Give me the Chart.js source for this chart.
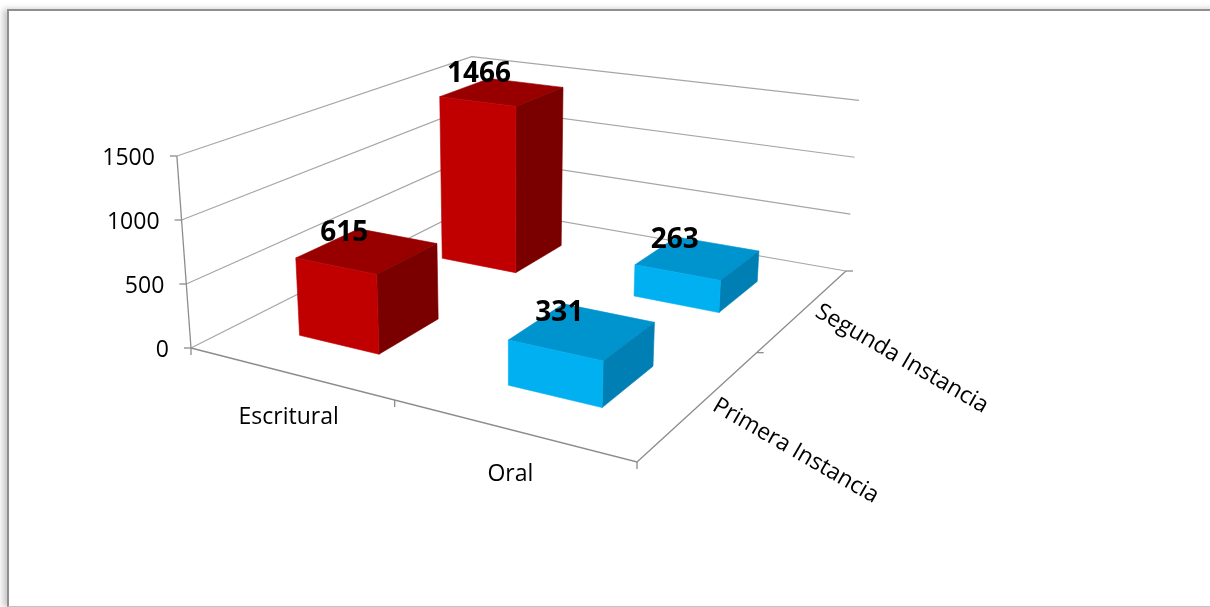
<!DOCTYPE html>
<html>
<head>
<meta charset="utf-8">
<script src="https://cdn.jsdelivr.net/npm/chart.js@4/dist/chart.umd.min.js"></script>
<style>
  body { margin: 0; background: #fff; overflow: hidden; }
  #marco {
    position: absolute; left: 7px; top: 9px; width: 1240px; height: 595px;
    border-top: 2px solid #8f8f8f; border-left: 2px solid #8f8f8f; border-bottom: 1px solid #c4c4c4;
    box-shadow: -4px 0 6px rgba(0, 0, 0, 0.22);
  }
  #caja { position: absolute; left: 0; top: 0; width: 1210px; height: 607px; }
</style>
</head>
<body>
<div id="marco"></div>
<div id="caja"><canvas id="grafico"></canvas></div>
<script>
// datos del grafico
const categorias = ["Escritural", "Oral"];
const series = ["Primera Instancia", "Segunda Instancia"];
const primeraInstancia = [615, 331];
const segundaInstancia = [1466, 263];
const ticksValor = [0, 500, 1000, 1500];

// colores de las caras (frente, tapa, lado) por categoria
const coloresFrente = ["#c00000", "#00b0f0"];
const coloresTapa = ["#980000", "#0094ce"];
const coloresLado = ["#7a0000", "#007fb4"];

// camara: esquinas del piso en pantalla y punto de fuga vertical
const piso = { L: [191, 348], F: [637, 462], R: [846, 271], B: [473, 206] };
const alturaPlena = 192;
const fuga = [510, 4680];
const fondoBarra = 0.4; // fraccion de la fila que ocupa la barra en profundidad

function armarHomografia(p) {
  const [x0, y0] = p.L, [x1, y1] = p.F, [x2, y2] = p.R, [x3, y3] = p.B;
  const sx = x0 - x1 + x2 - x3, sy = y0 - y1 + y2 - y3;
  const dx1 = x1 - x2, dx2 = x3 - x2, dy1 = y1 - y2, dy2 = y3 - y2;
  const det = dx1 * dy2 - dx2 * dy1;
  const g = (sx * dy2 - dx2 * sy) / det;
  const h = (dx1 * sy - sx * dy1) / det;
  return { a: x1 - x0 + g * x1, b: x3 - x0 + h * x3, c: x0, d: y1 - y0 + g * y1, e: y3 - y0 + h * y3, f: y0, g: g, h: h };
}
const H = armarHomografia(piso);

// (u: categoria, w: profundidad, v: fraccion del valor) -> pantalla
function proyectar(u, w, v) {
  const den = H.g * u + H.h * w + 1;
  const fx = (H.a * u + H.b * w + H.c) / den;
  const fy = (H.d * u + H.e * w + H.f) / den;
  const alto = v * alturaPlena / den;
  return [fx + (fx - fuga[0]) * alto / (fuga[1] - fy), fy - alto];
}

function linea(ctx, pts, color, ancho) {
  ctx.beginPath();
  ctx.moveTo(pts[0][0], pts[0][1]);
  for (let i = 1; i < pts.length; i++) ctx.lineTo(pts[i][0], pts[i][1]);
  ctx.strokeStyle = color;
  ctx.lineWidth = ancho;
  ctx.stroke();
}

function cara(ctx, pts, color) {
  ctx.beginPath();
  ctx.moveTo(pts[0][0], pts[0][1]);
  for (let i = 1; i < pts.length; i++) ctx.lineTo(pts[i][0], pts[i][1]);
  ctx.closePath();
  ctx.fillStyle = color;
  ctx.fill();
  ctx.strokeStyle = color;
  ctx.lineWidth = 0.6;
  ctx.stroke();
}

const cajas3d = {
  id: "cajas3d",
  beforeDatasetsDraw(chart) {
    const ctx = chart.ctx;
    const sx = chart.scales.x, sy = chart.scales.y, sz = chart.scales.z;
    const fracU = px => (px - sx.left) / (sx.right - sx.left);
    const fracW = px => (px - sz.left) / (sz.right - sz.left);
    const altoEscala = sy.getPixelForValue(sy.min) - sy.getPixelForValue(sy.max);
    const fracV = v => (sy.getPixelForValue(sy.min) - sy.getPixelForValue(v)) / altoEscala;
    const gris = "#a6a6a6", grisEje = "#8c8c8c";

    ctx.save();
    // lineas de division en las paredes
    sy.ticks.forEach(t => {
      const f = fracV(t.value);
      linea(ctx, [proyectar(0, 0, f), proyectar(0, 1, f), proyectar(1, 1, f)], gris, 1.2);
    });
    // eje de valores
    linea(ctx, [proyectar(0, 0, 0), proyectar(0, 0, 1)], grisEje, 1.3);
    ctx.font = "23px 'Open Sans'";
    ctx.fillStyle = "#000";
    ctx.textAlign = "right";
    ctx.textBaseline = "middle";
    sy.ticks.forEach(t => {
      const p = proyectar(0, 0, fracV(t.value));
      linea(ctx, [p, [p[0] - 7, p[1]]], grisEje, 1.3);
      ctx.fillText(String(t.value), p[0] - 22, p[1] + 2);
    });
    // bordes del piso
    linea(ctx, [proyectar(0, 0, 0), proyectar(1, 0, 0), proyectar(1, 1, 0)], grisEje, 1.3);
    [0, 0.5, 1].forEach(u => {
      const p = proyectar(u, 0, 0);
      linea(ctx, [p, [p[0], p[1] + 7]], grisEje, 1.3);
    });
    [0.5, 1].forEach(w => {
      const p = proyectar(1, w, 0);
      linea(ctx, [p, [p[0] + 7, p[1]]], grisEje, 1.3);
    });

    // cajas: de atras hacia adelante
    const etiquetas = [];
    for (let di = chart.data.datasets.length - 1; di >= 0; di--) {
      const meta = chart.getDatasetMeta(di);
      const wc = fracW(sz.getPixelForValue(di));
      const mitad = fondoBarra / series.length / 2;
      const w0 = wc - mitad, w1 = wc + mitad;
      meta.data.forEach((el, j) => {
        const u0 = fracU(el.x - el.width / 2), u1 = fracU(el.x + el.width / 2);
        const f = (el.base - el.y) / altoEscala;
        cara(ctx, [proyectar(u0, w0, f), proyectar(u1, w0, f), proyectar(u1, w1, f), proyectar(u0, w1, f)], coloresTapa[j]);
        cara(ctx, [proyectar(u1, w0, 0), proyectar(u1, w1, 0), proyectar(u1, w1, f), proyectar(u1, w0, f)], coloresLado[j]);
        cara(ctx, [proyectar(u0, w0, 0), proyectar(u1, w0, 0), proyectar(u1, w0, f), proyectar(u0, w0, f)], coloresFrente[j]);
        const c = proyectar((u0 + u1) / 2, wc, f);
        etiquetas.push([chart.data.datasets[di].data[j], c]);
      });
    }
    ctx.font = "bold 28px 'Open Sans'";
    ctx.fillStyle = "#000";
    ctx.textAlign = "center";
    ctx.textBaseline = "middle";
    etiquetas.forEach(([v, c]) => ctx.fillText(String(v), c[0] - 23, c[1] - 18));

    // etiquetas de categoria
    ctx.font = "23px 'Open Sans'";
    categorias.forEach((nombre, j) => {
      const p = proyectar(fracU(sx.getPixelForValue(j)), 0, 0);
      ctx.fillText(nombre, p[0], p[1] + 45);
    });
    // etiquetas de serie, giradas
    ctx.textAlign = "left";
    series.forEach((nombre, di) => {
      const p = proyectar(1, fracW(sz.getPixelForValue(di)), 0);
      ctx.save();
      ctx.translate(p[0] + 13, p[1] + 1);
      ctx.rotate(30 * Math.PI / 180);
      ctx.fillText(nombre, 0, 0);
      ctx.restore();
    });
    ctx.restore();
    return false;
  }
};

new Chart(document.getElementById("grafico"), {
  type: "bar",
  data: {
    labels: categorias,
    datasets: [
      { label: series[0], data: primeraInstancia, backgroundColor: coloresFrente },
      { label: series[1], data: segundaInstancia, backgroundColor: coloresFrente }
    ]
  },
  options: {
    responsive: true,
    maintainAspectRatio: false,
    animation: false,
    grouped: false,
    categoryPercentage: 0.4,
    barPercentage: 1,
    layout: { padding: 0 },
    plugins: { legend: { display: false }, tooltip: { enabled: false } },
    scales: {
      x: { type: "category", display: false, offset: true },
      z: { type: "category", axis: "x", labels: series, display: false, offset: true },
      y: { type: "linear", display: false, min: ticksValor[0], max: ticksValor[ticksValor.length - 1],
           ticks: { stepSize: ticksValor[1] - ticksValor[0] } }
    }
  },
  plugins: [cajas3d]
});
</script>
</body>
</html>
